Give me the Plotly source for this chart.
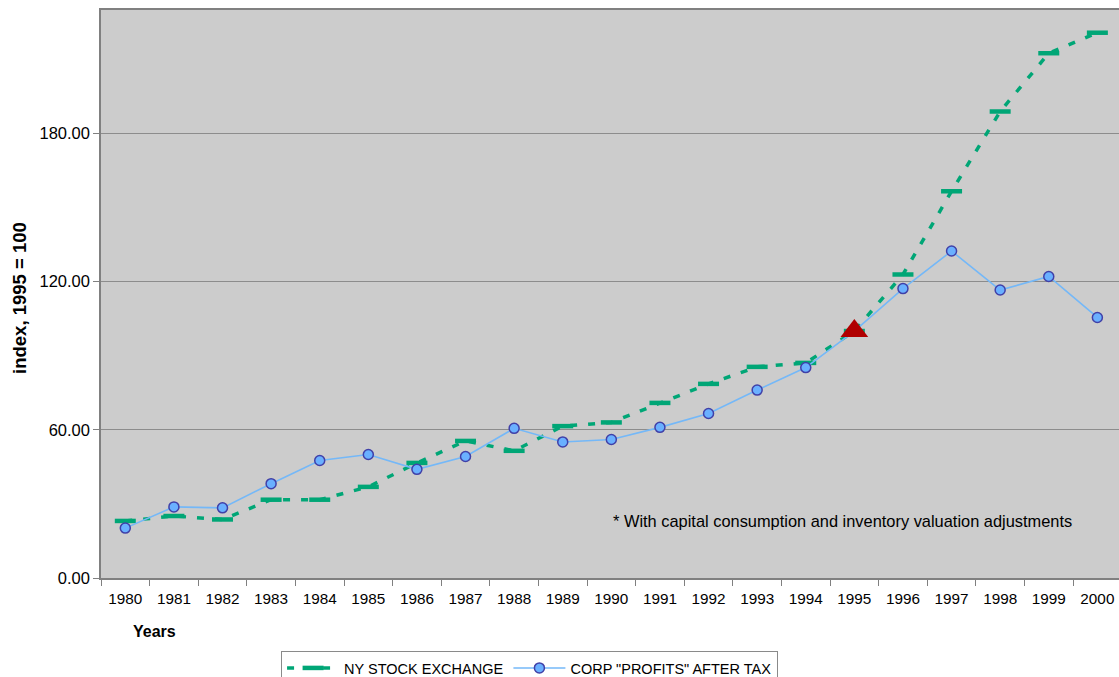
import plotly.graph_objects as go

years = [str(y) for y in range(1980, 2001)]
nyse = [23.1, 25.1, 23.7, 31.7, 31.7, 36.9, 46.6, 55.5, 51.5, 61.5, 63.0,
        70.9, 78.6, 85.5, 87.1, 100.0, 122.9, 156.6, 188.9, 212.5, 220.8]
profits = [20.2, 28.8, 28.4, 38.2, 47.6, 50.0, 44.0, 49.2, 60.6, 55.1, 56.1,
           61.0, 66.6, 76.1, 85.2, 100.0, 117.2, 132.4, 116.6, 122.1, 105.5]
base_year = ["1995"]
base_value = [100.0]
y_ticks = [0, 60, 120, 180]

FONT = "Liberation Sans, Arial, sans-serif"

fig = go.Figure()
fig.add_trace(go.Scatter(
    x=years, y=nyse, name="NY STOCK EXCHANGE", mode="lines+markers",
    line=dict(color="#00A676", width=3.5, dash="7px,11px"),
    marker=dict(symbol="line-ew", size=15, line=dict(color="#00A676", width=4.5)),
))
fig.add_trace(go.Scatter(
    x=years, y=profits, name='CORP "PROFITS" AFTER TAX', mode="lines+markers",
    line=dict(color="#74B8F8", width=1.6),
    marker=dict(symbol="circle", size=10, color="#6AB0FF",
                line=dict(color="#4040A8", width=1.5)),
))
fig.add_trace(go.Scatter(
    x=base_year, y=base_value, mode="markers", showlegend=False,
    marker=dict(symbol="triangle-up", size=24, color="#B00000", line=dict(width=0)),
))

fig.update_layout(
    width=1119, height=677,
    margin=dict(l=101, r=0, t=10, b=99, autoexpand=False),
    paper_bgcolor="white", plot_bgcolor="#CCCCCC",
    font=dict(family=FONT, size=15, color="black"),
    showlegend=True,
    legend=dict(orientation="h", x=0.421, xanchor="center",
                yref="container", y=0.0384, yanchor="top",
                bgcolor="white", bordercolor="#8A8A8A", borderwidth=1,
                font=dict(size=14.5), itemwidth=52, tracegroupgap=0),
)
fig.update_xaxes(
    type="category", range=[-0.5, 20.445], tickson="boundaries",
    ticks="outside", ticklen=6, tickcolor="#808080", ticklabelstandoff=6,
    showline=True, linecolor="#808080", linewidth=1.5, mirror=True,
    showgrid=False, tickfont=dict(size=15.3),
)
fig.update_yaxes(
    range=[0, 230], tickvals=y_ticks, tickformat=".2f",
    ticks="outside", ticklen=6, tickcolor="#808080",
    showline=True, linecolor="#808080", linewidth=1.5,
    showgrid=True, gridcolor="#8C8C8C", gridwidth=1,
    zeroline=False, tickfont=dict(size=16.5),
)
fig.add_annotation(text="* With capital consumption and inventory valuation adjustments",
                   xref="paper", x=0.501, yref="y", y=23.06, xanchor="left",
                   showarrow=False, font=dict(size=16.4))
fig.add_annotation(text="<b>Years</b>", xref="paper", x=0.053, yref="paper", y=-0.095,
                   xanchor="center", yanchor="middle",
                   showarrow=False, font=dict(size=16))
fig.add_annotation(text="<b>index, 1995 = 100</b>", xref="paper", x=-0.0796,
                   yref="paper", y=0.493, textangle=-90, showarrow=False,
                   xanchor="center", yanchor="middle",
                   font=dict(size=18.5))

fig.write_html("out.html", config={"displayModeBar": False},
               post_script="document.body.style.margin='0';document.body.style.overflow='hidden';")
